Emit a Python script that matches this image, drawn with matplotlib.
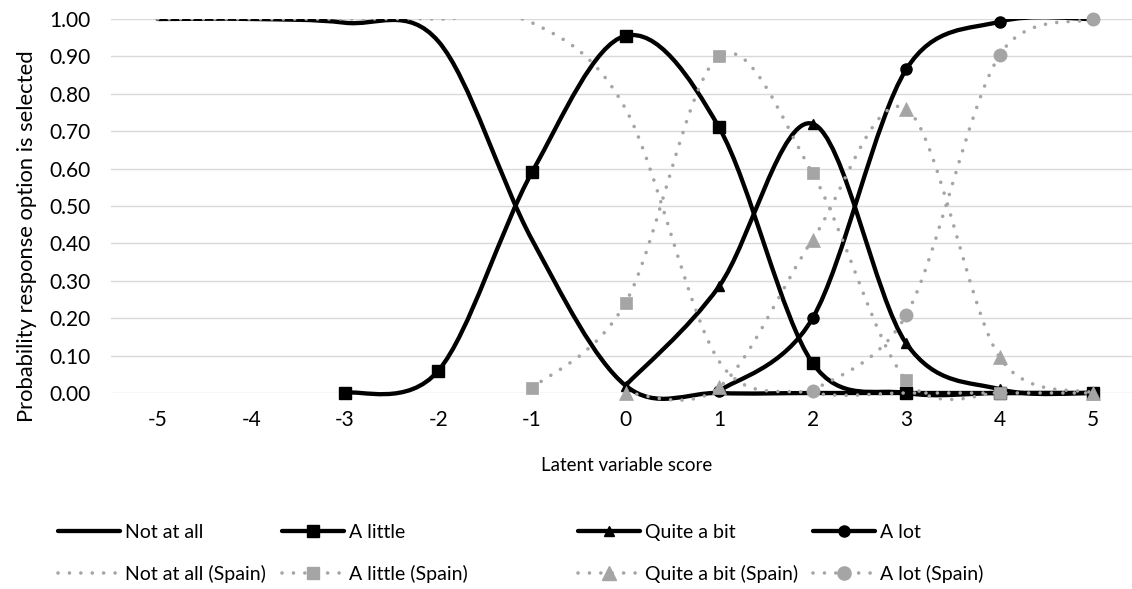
import numpy as np
import matplotlib
matplotlib.use("Agg")
import matplotlib.pyplot as plt
from matplotlib.path import Path
from matplotlib.patches import PathPatch, Rectangle
from matplotlib.lines import Line2D

plt.rcParams['font.family'] = ['Lato', 'DejaVu Sans']

# Latent variable score categories
scores = [-5, -4, -3, -2, -1, 0, 1, 2, 3, 4, 5]
nan = np.nan

# Probabilities (nan = series not drawn there)
not_at_all = [1.00, 1.00, 0.99, 0.94, 0.41, 0.02, 0.00, 0.00, 0.00, 0.00, 0.00]
a_little = [nan, nan, 0.00, 0.06, 0.59, 0.955, 0.71, 0.08, 0.00, 0.00, 0.00]
quite_a_bit = [nan, nan, nan, nan, nan, 0.02, 0.285, 0.72, 0.133, 0.01, 0.00]
a_lot = [nan, nan, nan, nan, nan, nan, 0.005, 0.20, 0.865, 0.993, 1.00]

not_at_all_sp = [1.00, 1.00, 1.00, 1.00, 0.99, 0.76, 0.085, 0.00, 0.00, 0.00, 0.00]
a_little_sp = [nan, nan, nan, nan, 0.013, 0.241, 0.90, 0.587, 0.035, 0.00, nan]
quite_a_bit_sp = [nan, nan, nan, nan, nan, 0.00, 0.015, 0.41, 0.76, 0.095, 0.00]
a_lot_sp = [nan, nan, nan, nan, nan, nan, nan, 0.005, 0.208, 0.904, 1.00]

labels = ['Not at all', 'A little', 'Quite a bit', 'A lot']
labels_sp = [l + ' (Spain)' for l in labels]

BLACK = '#000000'
GRAY = '#a5a5a5'
TICK_FS = 15
XLABEL_FS = 13.5
YLABEL_FS = 15.8
LEG_FS = 14
DOT = (0, (0.01, 3.15))

# screen size of one unit on each axis (px), used for Excel-like smoothing
UX, UY = 93.5, 374.0


def smooth_path(xs, ys):
    # Excel-style smoothed line: cubic Bezier through the points
    pts = np.array([(x, y) for x, y in zip(xs, ys) if not np.isnan(y)], float)
    scr = pts * [UX, UY]
    n = len(pts)
    verts = [pts[0]]
    codes = [Path.MOVETO]
    for i in range(n - 1):
        i0 = max(i - 1, 0)
        i3 = min(i + 2, n - 1)
        d02 = np.hypot(*(scr[i + 1] - scr[i0]))
        d13 = np.hypot(*(scr[i3] - scr[i]))
        d12 = np.hypot(*(scr[i + 1] - scr[i]))
        f1 = 1 / 6 if d02 / 6 < d12 / 2 else d12 / 2 / d02
        f2 = 1 / 6 if d13 / 6 < d12 / 2 else d12 / 2 / d13
        verts += [pts[i] + (pts[i + 1] - pts[i0]) * f1,
                  pts[i + 1] - (pts[i3] - pts[i]) * f2, pts[i + 1]]
        codes += [Path.CURVE4] * 3
    return Path(verts, codes)


fig = plt.figure(figsize=(11.32, 5.89), dpi=100)
ax = fig.add_axes([111 / 1132, 196 / 589, 1029 / 1132, 374 / 589])

# lines are cut at the top of the plot area, markers are not
clip = Rectangle((-6, -0.2), 12, 1.2, transform=ax.transData)

black_series = [not_at_all, a_little, quite_a_bit, a_lot]
spain_series = [not_at_all_sp, a_little_sp, quite_a_bit_sp, a_lot_sp]
black_marks = [None, ('s', 9), ('^', 7), ('o', 8)]
gray_marks = [None, ('s', 9), ('^', 9.5), ('o', 9.5)]

handles = []
for vals, mk in zip(black_series, black_marks):
    p = ax.add_patch(PathPatch(smooth_path(scores, vals), fill=False, ec=BLACK,
                               lw=3.1, capstyle='round', joinstyle='round',
                               zorder=3))
    p.set_clip_path(clip)
    if mk:
        ax.plot(scores, vals, ls='none', marker=mk[0], ms=mk[1], color=BLACK,
                mec=BLACK, mew=1, clip_on=False, zorder=4)
    handles.append(Line2D([], [], color=BLACK, lw=3.1, solid_capstyle='round',
                          marker=mk[0] if mk else None,
                          ms=mk[1] if mk else 0, mec=BLACK))

handles_sp = []
for vals, mk in zip(spain_series, gray_marks):
    p = ax.add_patch(PathPatch(smooth_path(scores, vals), fill=False, ec=GRAY,
                               lw=2.6, ls=DOT, capstyle='round', zorder=5))
    p.set_clip_path(clip)
    if mk:
        ax.plot(scores, vals, ls='none', marker=mk[0], ms=mk[1], color=GRAY,
                mec=GRAY, mew=0.5, clip_on=False, zorder=6)
    handles_sp.append(Line2D([], [], color=GRAY, lw=2.6, ls=DOT,
                             dash_capstyle='round',
                             marker=mk[0] if mk else None,
                             ms=mk[1] if mk else 0, mec=GRAY))

ax.set_xlim(-5.5, 5.5)
ax.set_ylim(0, 1)
ax.set_xticks(scores)
ax.set_xticklabels([str(s) for s in scores])
ax.set_yticks(np.arange(0, 1.01, 0.1))
ax.set_yticklabels([f'{v:.2f}' for v in np.arange(0, 1.01, 0.1)])
ax.tick_params(axis='both', length=0, labelsize=TICK_FS)
ax.tick_params(axis='y', pad=15)
ax.tick_params(axis='x', pad=12)
ax.grid(axis='y', color='#d9d9d9', lw=1.0)
ax.set_axisbelow(True)
for sp in ax.spines.values():
    sp.set_visible(False)

ax.set_xlabel('Latent variable score', fontsize=XLABEL_FS)
ax.xaxis.label.set_va('center')
ax.xaxis.set_label_coords(0.501, -0.195)
ax.set_ylabel('Probability response option is selected', fontsize=YLABEL_FS)
ax.yaxis.label.set_va('center')
ax.yaxis.set_label_coords(-0.082, 0.42)

# legend laid out as four columns, like Excel does
col_x = [58, 282, 578, 813]
for i in range(4):
    fig.legend([handles[i], handles_sp[i]], [labels[i], labels_sp[i]],
               loc='center left', bbox_to_anchor=(col_x[i] / 1132, 1 - 553.5 / 589),
               frameon=False, fontsize=LEG_FS, handlelength=3.2,
               handletextpad=0.25, labelspacing=1.25, borderpad=0,
               borderaxespad=0, numpoints=1)

fig.savefig('out.png', dpi=100)
